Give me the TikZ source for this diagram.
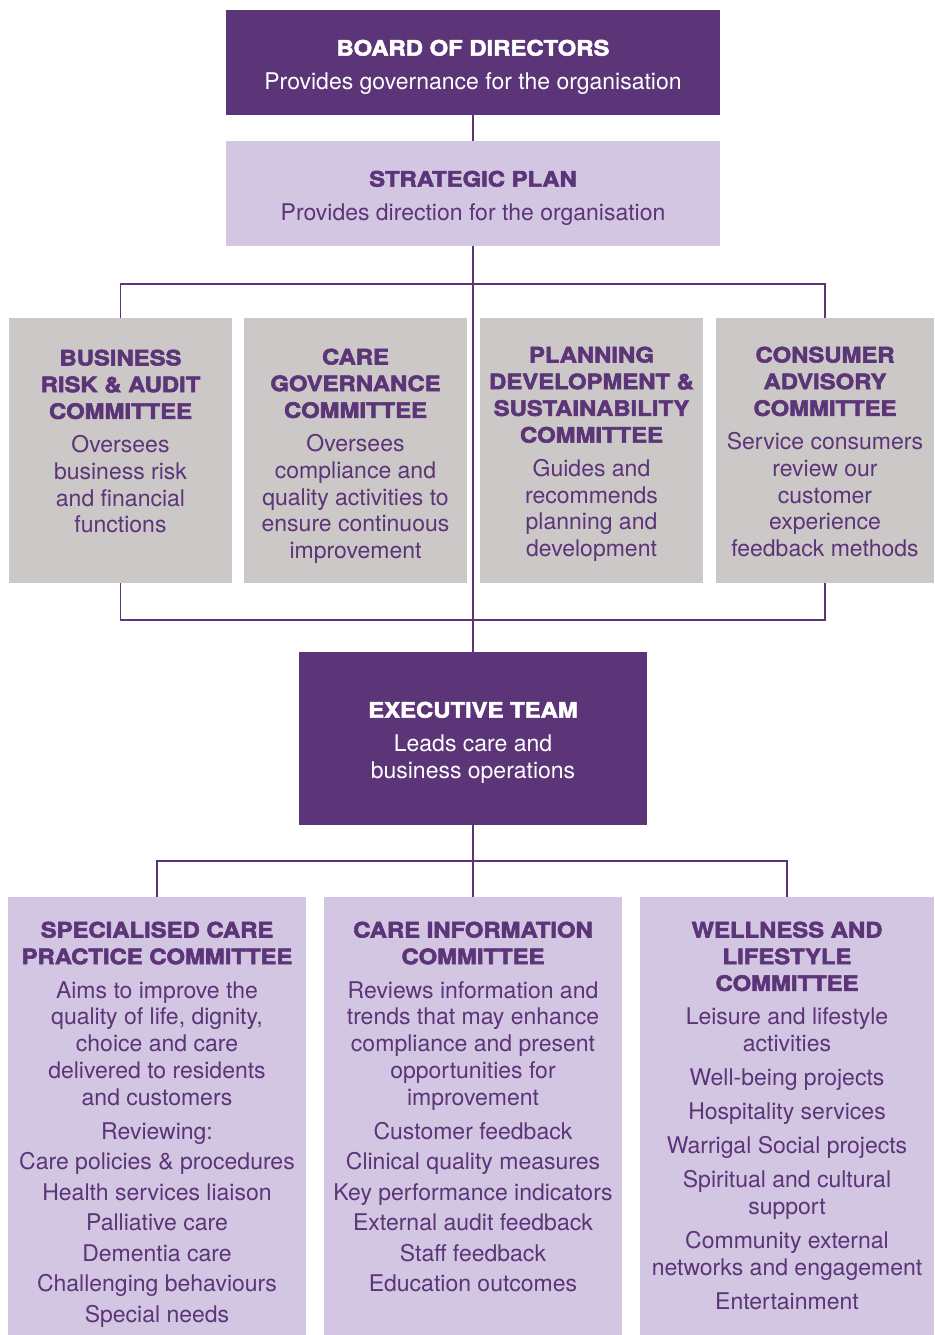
\documentclass[tikz,border=0pt]{standalone}
\usepackage{fontspec}
\setmainfont{TeX Gyre Heros}
\newfontfamily\headfont{TeX Gyre Heros}[BoldFeatures={FakeBold=2.6}, FakeStretch=1.12]
\definecolor{dpurple}{HTML}{5C3478}
\definecolor{lav}{HTML}{D2C6E2}
\definecolor{greybox}{HTML}{CBC8C7}
\definecolor{txtp}{HTML}{5C3478}
\newcommand\bodyfont{\fontsize{23}{26.7}\selectfont}
\newcommand\hd[1]{{\headfont\bfseries\fontsize{21.3}{26.7}\selectfont #1}}
\tikzset{
  box/.style={rectangle, inner sep=0pt, draw=none},
  darkb/.style={box, fill=dpurple},
  greyb/.style={box, fill=greybox},
  lavb/.style={box, fill=lav},
  txt/.style={align=center, inner sep=0pt, text=txtp, font=\bodyfont, anchor=north},
  wtxt/.style={txt, text=white},
  conn/.style={draw=dpurple, line width=1.3pt},
}
\begin{document}
\begin{tikzpicture}[x=1pt, y=-1pt]
\useasboundingbox (0,0) rectangle (934,1335);
\fill[white] (0,0) rectangle (934,1335);

% top boxes
\node[darkb, minimum width=494pt, minimum height=105pt] (board) at (473,62.5) {};
\node[wtxt] (boardt) at (473,39.6)
  {\hd{BOARD OF DIRECTORS}\\[7.3pt] Provides governance for the organisation};
\node[lavb, minimum width=494pt, minimum height=105pt] (strat) at (473,193.5) {};
\node[txt] (stratt) at (473,170.6)
  {\hd{STRATEGIC PLAN}\\[7.3pt] Provides direction for the organisation};

% committees
\node[greyb, minimum width=223pt, minimum height=265pt] (c1) at (120.5,450.5) {};
\node[greyb, minimum width=223pt, minimum height=265pt] (c2) at (355.5,450.5) {};
\node[greyb, minimum width=223pt, minimum height=265pt] (c3) at (591.5,450.5) {};
\node[greyb, minimum width=218pt, minimum height=265pt] (c4) at (825,450.5) {};

\node[txt] (c1t) at (120.5,349.5)
  {\hd{BUSINESS}\\ \hd{RISK \& AUDIT}\\ \hd{COMMITTEE}\\[7.3pt]
   Oversees\\ business risk\\ and financial\\ functions};
\node[txt] (c2t) at (355.5,348.5)
  {\hd{CARE}\\ \hd{GOVERNANCE}\\ \hd{COMMITTEE}\\[7.3pt]
   Oversees\\ compliance and\\ quality activities to\\ ensure continuous\\ improvement};
\node[txt] (c3t) at (591.5,346.5)
  {\hd{PLANNING}\\ \hd{DEVELOPMENT \&}\\ \hd{SUSTAINABILITY}\\ \hd{COMMITTEE}\\[7.3pt]
   Guides and\\ recommends\\ planning and\\ development};
\node[txt] (c4t) at (825,346.5)
  {\hd{CONSUMER}\\ \hd{ADVISORY}\\ \hd{COMMITTEE}\\[7.3pt]
   Service consumers\\ review our\\ customer\\ experience\\ feedback methods};

% executive
\node[darkb, minimum width=348pt, minimum height=173pt] (exec) at (473,738.5) {};
\node[wtxt] (exect) at (473,701.6)
  {\hd{EXECUTIVE TEAM}\\[7.3pt] Leads care and\\ business operations};

% bottom committees
\node[lavb, minimum width=298pt, minimum height=438pt] (s1) at (157,1116) {};
\node[lavb, minimum width=298pt, minimum height=438pt] (s2) at (473,1116) {};
\node[lavb, minimum width=294pt, minimum height=438pt] (s3) at (787,1116) {};

\node[txt] (s1t) at (157,921.5)
  {\hd{SPECIALISED CARE}\\ \hd{PRACTICE COMMITTEE}\\[7.3pt]
   Aims to improve the\\ quality of life, dignity,\\ choice and care\\ delivered to residents\\ and customers\\[7.3pt]
   Reviewing:\\[3.8pt] Care policies \& procedures\\[3.8pt] Health services liaison\\[3.8pt]
   Palliative care\\[3.8pt] Dementia care\\[3.8pt] Challenging behaviours\\[3.8pt] Special needs};
\node[txt] (s2t) at (473,921.5)
  {\hd{CARE INFORMATION}\\ \hd{COMMITTEE}\\[7.3pt]
   Reviews information and\\ trends that may enhance\\ compliance and present\\ opportunities for\\ improvement\\[7.3pt]
   Customer feedback\\[3.8pt] Clinical quality measures\\[3.8pt] Key performance indicators\\[3.8pt]
   External audit feedback\\[3.8pt] Staff feedback\\[3.8pt] Education outcomes};
\node[txt] (s3t) at (787,921.5)
  {\hd{WELLNESS AND}\\ \hd{LIFESTYLE}\\ \hd{COMMITTEE}\\[7.3pt]
   Leisure and lifestyle\\ activities\\[7.3pt] Well-being projects\\[7.3pt] Hospitality services\\[7.3pt]
   Warrigal Social projects\\[7.3pt] Spiritual and cultural\\ support\\[7.3pt]
   Community external\\ networks and engagement\\[7.3pt] Entertainment};

% connectors
\coordinate (tb) at (473,284);
\coordinate (bb) at (473,620);
\coordinate (eb) at (473,861);
\draw[conn] (board.south) -- (strat.north);
\draw[conn] (strat.south) -- (exec.north);
\draw[conn] (c1.north) |- (tb) -| (c4.north);
\draw[conn] (c1.south) |- (bb) -| (c4.south);
\draw[conn] (exec.south) -- (s2.north);
\draw[conn] (s1.north) |- (eb) -| (s3.north);
\end{tikzpicture}
\end{document}
